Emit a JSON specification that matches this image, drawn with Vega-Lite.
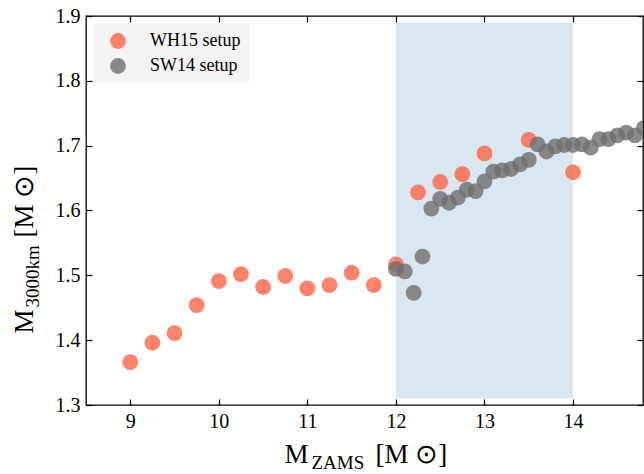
{
  "$schema": "https://vega.github.io/schema/vega-lite/v6.json",
  "width": 557,
  "height": 389,
  "autosize": {"type": "none"},
  "padding": {"left": 86, "top": 16, "right": 1, "bottom": 69},
  "background": "white",
  "config": {
    "view": {"stroke": "black", "strokeWidth": 1.3},
    "font": "Liberation Serif",
    "axis": {
      "grid": false,
      "domain": false,
      "tickColor": "black",
      "tickWidth": 1.2,
      "tickSize": -6,
      "labelFont": "Liberation Serif",
      "labelFontSize": 20,
      "labelColor": "black",
      "titleFont": "Liberation Serif",
      "titleFontWeight": "normal",
      "titleColor": "black"
    },
    "legend": {"labelFont": "Liberation Serif", "labelFontSize": 18, "labelColor": "black"}
  },
  "resolve": {"axis": {"x": "independent", "y": "independent"}},
  "layer": [
    {
      "data": {"values": [{"x0": 12, "x1": 14, "y0": 1.31, "y1": 1.89}]},
      "mark": {"type": "rect", "color": "steelblue", "opacity": 0.2},
      "encoding": {
        "x": {
          "field": "x0", "type": "quantitative",
          "scale": {"domain": [8.5, 14.79], "nice": false, "zero": false},
          "axis": {
            "orient": "bottom", "values": [9, 10, 11, 12, 13, 14], "format": "d",
            "labelPadding": 12,
            "title": "M",
            "titleFontSize": 27, "titleAlign": "left", "titleBaseline": "alphabetic",
            "titleAngle": 0, "titleX": 198, "titleY": 57
          }
        },
        "x2": {"field": "x1"},
        "y": {
          "field": "y0", "type": "quantitative",
          "scale": {"domain": [1.3, 1.9], "nice": false, "zero": false},
          "axis": {
            "orient": "left", "values": [1.3, 1.4, 1.5, 1.6, 1.7, 1.8, 1.9], "format": ".1f",
            "labelPadding": 12,
            "title": "M",
            "titleFontSize": 27, "titleAlign": "left", "titleBaseline": "alphabetic",
            "titleAngle": -90, "titleX": -54, "titleY": 317
          }
        },
        "y2": {"field": "y1"}
      }
    },
    {
      "data": {"values": [
        {"m": 9, "v": 1.366, "setup": "WH15 setup"},
        {"m": 9.25, "v": 1.396, "setup": "WH15 setup"},
        {"m": 9.5, "v": 1.411, "setup": "WH15 setup"},
        {"m": 9.75, "v": 1.454, "setup": "WH15 setup"},
        {"m": 10, "v": 1.491, "setup": "WH15 setup"},
        {"m": 10.25, "v": 1.502, "setup": "WH15 setup"},
        {"m": 10.5, "v": 1.482, "setup": "WH15 setup"},
        {"m": 10.75, "v": 1.499, "setup": "WH15 setup"},
        {"m": 11, "v": 1.48, "setup": "WH15 setup"},
        {"m": 11.25, "v": 1.485, "setup": "WH15 setup"},
        {"m": 11.5, "v": 1.504, "setup": "WH15 setup"},
        {"m": 11.75, "v": 1.485, "setup": "WH15 setup"},
        {"m": 12, "v": 1.517, "setup": "WH15 setup"},
        {"m": 12.25, "v": 1.628, "setup": "WH15 setup"},
        {"m": 12.5, "v": 1.644, "setup": "WH15 setup"},
        {"m": 12.75, "v": 1.656, "setup": "WH15 setup"},
        {"m": 13, "v": 1.688, "setup": "WH15 setup"},
        {"m": 13.5, "v": 1.709, "setup": "WH15 setup"},
        {"m": 14, "v": 1.659, "setup": "WH15 setup"}
      ]},
      "mark": {"type": "point", "filled": true, "size": 250, "opacity": 0.8, "clip": true},
      "encoding": {
        "x": {
          "field": "m", "type": "quantitative",
          "scale": {"domain": [8.5, 14.79], "nice": false, "zero": false},
          "axis": {
            "orient": "top", "values": [9, 10, 11, 12, 13, 14], "labels": false,
            "title": "ZAMS", "titleFontSize": 19, "titleAlign": "left", "titleBaseline": "alphabetic",
            "titleAngle": 0, "titleX": 225, "titleY": 452
          }
        },
        "y": {
          "field": "v", "type": "quantitative",
          "scale": {"domain": [1.3, 1.9], "nice": false, "zero": false},
          "axis": {
            "orient": "right", "values": [1.3, 1.4, 1.5, 1.6, 1.7, 1.8, 1.9], "labels": false,
            "title": "3000km", "titleFontSize": 19, "titleAlign": "left", "titleBaseline": "alphabetic",
            "titleAngle": -90, "titleX": -605, "titleY": 291
          }
        },
        "color": {
          "field": "setup", "type": "nominal",
          "scale": {"domain": ["WH15 setup", "SW14 setup"], "range": ["#ff6347", "#6e6e6e"]},
          "legend": {
            "orient": "none", "legendX": 7, "legendY": 8, "title": null,
            "fillColor": "#f4f4f4", "padding": 8, "symbolOffset": 8,
            "symbolSize": 250, "symbolType": "circle", "symbolStrokeWidth": 0,
            "labelFont": "Liberation Serif", "labelFontSize": 18, "labelColor": "black",
            "labelOffset": 23, "rowPadding": 7,
            "encode": {"symbols": {"update": {"opacity": [{"test": "datum.value === 'SW14 setup'", "value": 0.85}, {"value": 1}]}}}
          }
        }
      }
    },
    {
      "data": {"values": [
        {"m": 12.0, "v": 1.51, "setup": "SW14 setup"},
        {"m": 12.1, "v": 1.506, "setup": "SW14 setup"},
        {"m": 12.2, "v": 1.473, "setup": "SW14 setup"},
        {"m": 12.3, "v": 1.529, "setup": "SW14 setup"},
        {"m": 12.4, "v": 1.603, "setup": "SW14 setup"},
        {"m": 12.5, "v": 1.618, "setup": "SW14 setup"},
        {"m": 12.6, "v": 1.612, "setup": "SW14 setup"},
        {"m": 12.7, "v": 1.62, "setup": "SW14 setup"},
        {"m": 12.8, "v": 1.632, "setup": "SW14 setup"},
        {"m": 12.9, "v": 1.63, "setup": "SW14 setup"},
        {"m": 13.0, "v": 1.645, "setup": "SW14 setup"},
        {"m": 13.1, "v": 1.66, "setup": "SW14 setup"},
        {"m": 13.2, "v": 1.662, "setup": "SW14 setup"},
        {"m": 13.3, "v": 1.664, "setup": "SW14 setup"},
        {"m": 13.4, "v": 1.671, "setup": "SW14 setup"},
        {"m": 13.5, "v": 1.678, "setup": "SW14 setup"},
        {"m": 13.6, "v": 1.702, "setup": "SW14 setup"},
        {"m": 13.7, "v": 1.691, "setup": "SW14 setup"},
        {"m": 13.8, "v": 1.699, "setup": "SW14 setup"},
        {"m": 13.9, "v": 1.701, "setup": "SW14 setup"},
        {"m": 14.0, "v": 1.701, "setup": "SW14 setup"},
        {"m": 14.1, "v": 1.702, "setup": "SW14 setup"},
        {"m": 14.2, "v": 1.697, "setup": "SW14 setup"},
        {"m": 14.3, "v": 1.71, "setup": "SW14 setup"},
        {"m": 14.4, "v": 1.71, "setup": "SW14 setup"},
        {"m": 14.5, "v": 1.716, "setup": "SW14 setup"},
        {"m": 14.6, "v": 1.72, "setup": "SW14 setup"},
        {"m": 14.7, "v": 1.716, "setup": "SW14 setup"},
        {"m": 14.8, "v": 1.727, "setup": "SW14 setup"}
      ]},
      "mark": {"type": "point", "filled": true, "size": 250, "opacity": 0.8, "clip": true},
      "encoding": {
        "x": {
          "field": "m", "type": "quantitative",
          "scale": {"domain": [8.5, 14.79], "nice": false, "zero": false},
          "axis": {
            "orient": "bottom", "ticks": false, "labels": false, "domain": false,
            "title": "[M \u2299]", "titleFontSize": 27, "titleAlign": "left", "titleBaseline": "alphabetic",
            "titleAngle": 0, "titleX": 289, "titleY": 57
          }
        },
        "y": {
          "field": "v", "type": "quantitative",
          "scale": {"domain": [1.3, 1.9], "nice": false, "zero": false},
          "axis": {
            "orient": "left", "ticks": false, "labels": false, "domain": false,
            "title": "[M \u2299]", "titleFontSize": 27, "titleAlign": "left", "titleBaseline": "alphabetic",
            "titleAngle": -90, "titleX": -54, "titleY": 221
          }
        },
        "color": {
          "field": "setup", "type": "nominal",
          "scale": {"domain": ["WH15 setup", "SW14 setup"], "range": ["#ff6347", "#6e6e6e"]},
          "legend": {
            "orient": "none", "legendX": 7, "legendY": 8, "title": null,
            "fillColor": "#f4f4f4", "padding": 8, "symbolOffset": 8,
            "symbolSize": 250, "symbolType": "circle", "symbolStrokeWidth": 0,
            "labelFont": "Liberation Serif", "labelFontSize": 18, "labelColor": "black",
            "labelOffset": 23, "rowPadding": 7,
            "encode": {"symbols": {"update": {"opacity": [{"test": "datum.value === 'SW14 setup'", "value": 0.85}, {"value": 1}]}}}
          }
        }
      }
    }
  ]
}
